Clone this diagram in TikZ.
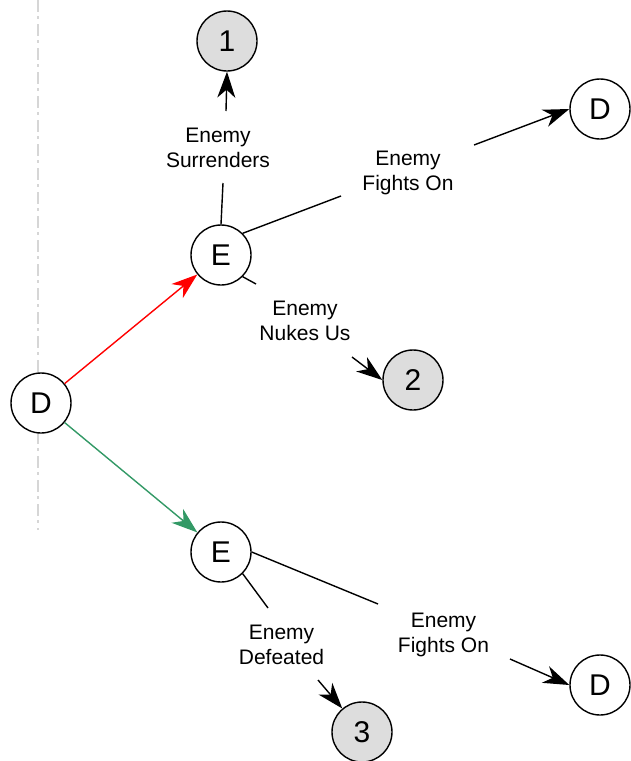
\documentclass[tikz,border=0pt]{standalone}
\usepackage{fontspec}
\setmainfont{Liberation Sans}
\usetikzlibrary{arrows.meta}
\definecolor{grn}{RGB}{51,153,102}
\definecolor{dashgray}{RGB}{214,214,214}
\definecolor{numfill}{RGB}{221,221,221}
\begin{document}
\begin{tikzpicture}[x=1pt,y=-1pt,
  state/.style={circle,draw,line width=1.4pt,fill=white,minimum size=60pt,inner sep=0pt,font=\fontsize{30}{36}\selectfont},
  outcome/.style={state,fill=numfill},
  lbl/.style={align=center,inner sep=0pt,font=\fontsize{21}{25}\selectfont},
  edge/.style={line width=1.4pt},
  tip/.style={-{Stealth[length=26pt,width=18pt,inset=8pt]}},
]
\useasboundingbox (0,0) rectangle (630,761);
\coordinate (dtop) at (38,0);
\coordinate (dbot) at (38,530);
\draw[dashgray, line width=1.4pt, dash pattern=on 12pt off 4pt on 3pt off 5pt] (dtop) -- (dbot);

\node[outcome] (n1) at (227,41) {1};
\node[state] (E1) at (221,255) {E};
\node[state] (D1) at (600,109) {D};
\node[outcome] (n2) at (413,380) {2};
\node[state] (D0) at (41,403) {D};
\node[state] (E2) at (221,552) {E};
\node[outcome] (n3) at (362,732) {3};
\node[state] (D2) at (600,685) {D};

\node[lbl] (ls) at (218,148) {Enemy\\Surrenders};
\node[lbl] (lf1) at (408,173) {Enemy\\Fights On};
\node[lbl] (lk) at (305,321) {Enemy\\Nukes Us};
\node[lbl] (ld) at (281.5,645) {Enemy\\Defeated};
\node[lbl] (lf2) at (443.5,635) {Enemy\\Fights On};

\coordinate (s1) at (223,183);
\coordinate (s2) at (226,111);
\coordinate (f1) at (341,196);
\coordinate (f2) at (474,145);
\coordinate (k1) at (256,284);
\coordinate (k2) at (352,357);
\coordinate (d1) at (268,608);
\coordinate (d2) at (318,680);
\coordinate (g1) at (378,604);
\coordinate (g2) at (510,659);

\draw[edge,tip,red] (D0) -- (E1);
\draw[edge,tip,grn] (D0) -- (E2);

\draw[edge] (E1.north) -- (s1);
\draw[edge,tip] (s2) -- (n1.south);
\draw[edge] (E1.45) -- (f1);
\draw[edge,tip] (f2) -- (D1.west);
\draw[edge] (E1.-45) -- (k1);
\draw[edge,tip] (k2) -- (n2.west);
\draw[edge] (E2.-45) -- (d1);
\draw[edge,tip] (d2) -- (n3.130);
\draw[edge] (E2.east) -- (g1);
\draw[edge,tip] (g2) -- (D2.west);
\end{tikzpicture}
\end{document}
